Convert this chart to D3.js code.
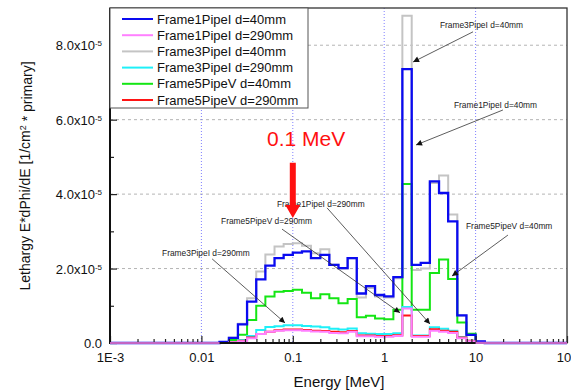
<!DOCTYPE html>
<html>
<head>
<meta charset="utf-8">
<script src="https://cdn.jsdelivr.net/npm/d3@7"></script>
<style>
  body { margin: 0; background: #fff; }
  svg { font-family: Arial, "Liberation Sans", sans-serif; }
</style>
</head>
<body>
<svg id="chart" width="571" height="391"></svg>
<script>
// bin edges in MeV (10 bins per decade from 0.01 to 12.6, then empty up to 100)
var edges = [0.001,
    0.01, 0.0126, 0.0158, 0.02, 0.0251, 0.0316, 0.0398, 0.0501, 0.0631, 0.0794,
    0.1, 0.126, 0.158, 0.2, 0.251, 0.316, 0.398, 0.501, 0.631, 0.794,
    1, 1.26, 1.58, 2.0, 2.51, 3.16, 3.98, 5.01, 6.31, 7.94,
    10, 12.6, 100];

// values in units of 1e-5 (first bin 0.001-0.01, last bin 12.6-100)
var frame1_40  = [0, 0, 0, 0.03, 0.14, 0.5, 1.11, 1.71, 2.08, 2.28, 2.37, 2.43, 2.46, 2.28, 2.37, 2.1, 2.01, 2.28, 1.33, 1.53, 1.29, 1.25, 1.77, 7.36, 2.1, 2.15, 4.34, 4.03, 3.27, 0.74, 0.22, 0.04, 0];
var frame1_290 = [0, 0, 0, 0, 0.02, 0.05, 0.13, 0.24, 0.3, 0.33, 0.34, 0.34, 0.33, 0.31, 0.3, 0.27, 0.26, 0.3, 0.18, 0.18, 0.17, 0.17, 0.19, 0.93, 0.17, 0.17, 0.33, 0.3, 0.27, 0.13, 0.05, 0.01, 0];
var frame3_40  = [0, 0, 0, 0.03, 0.14, 0.52, 1.2, 1.92, 2.38, 2.59, 2.66, 2.68, 2.61, 2.41, 2.52, 2.1, 2.0, 2.28, 1.22, 1.48, 1.25, 1.22, 1.74, 8.79, 1.96, 2.0, 4.3, 4.5, 3.45, 0.74, 0.22, 0.04, 0];
var frame3_290 = [0, 0, 0, 0, 0.03, 0.08, 0.19, 0.35, 0.43, 0.45, 0.48, 0.48, 0.46, 0.44, 0.42, 0.38, 0.36, 0.39, 0.26, 0.25, 0.24, 0.24, 0.26, 0.97, 0.2, 0.2, 0.42, 0.38, 0.33, 0.16, 0.06, 0.02, 0];
var frame5_40  = [0, 0, 0, 0, 0.08, 0.22, 0.62, 1.0, 1.25, 1.38, 1.4, 1.43, 1.35, 1.2, 1.31, 1.2, 1.07, 1.18, 0.69, 0.73, 0.66, 0.64, 0.89, 4.27, 0.89, 0.89, 1.88, 2.24, 1.72, 0.55, 0.25, 0.03, 0];
var frame5_290 = [0, 0, 0, 0, 0.02, 0.06, 0.15, 0.24, 0.3, 0.34, 0.36, 0.36, 0.35, 0.33, 0.32, 0.3, 0.29, 0.32, 0.2, 0.2, 0.19, 0.19, 0.21, 0.74, 0.19, 0.19, 0.37, 0.33, 0.3, 0.15, 0.06, 0.02, 0];

var seriesNames = ["Frame1PipeI d=40mm", "Frame1PipeI d=290mm", "Frame3PipeI d=40mm",
                   "Frame3PipeI d=290mm", "Frame5PipeV d=40mm", "Frame5PipeV d=290mm"];
var seriesValues = [frame1_40, frame1_290, frame3_40, frame3_290, frame5_40, frame5_290];
var seriesColors = ["#0a0af0", "#ff80ff", "#c4c4c4", "#1ff0f8", "#14e614", "#ff1414"];
var drawOrder = [2, 4, 3, 5, 0, 1];

var xMajor = [0.001, 0.01, 0.1, 1, 10, 100];
var xMajorLabels = ["1E-3", "0.01", "0.1", "1", "10", "100"];
var yMajor = [0, 2, 4, 6, 8];
var yMajorLabels = ["0.0", "2.0x10", "4.0x10", "6.0x10", "8.0x10"];
var yMinor = [1, 3, 5, 7];

// annotations: [text, label E, label v, line from E, v, arrow to E, v]
var notes = [
    ["Frame3PipeI d=40mm", 4.07, 8.46, 9.37, 8.36, 2.07, 7.55],
    ["Frame1PipeI d=40mm", 5.8, 6.31, 19.9, 6.26, 2.23, 5.32],
    ["Frame5PipeV d=40mm", 7.85, 3.06, 22.6, 2.9, 5.52, 1.8],
    ["Frame1PipeI d=290mm", 0.0671, 3.65, 0.237, 3.63, 3.17, 0.51],
    ["Frame5PipeV d=290mm", 0.0164, 3.2, 0.0762, 3.06, 1.49, 0.81],
    ["Frame3PipeI d=290mm", 0.00371, 2.34, 0.0131, 2.26, 0.0822, 0.54]
];

var margin = {top: 8, left: 110, right: 4, bottom: 48};
var width = 571, height = 391;
var svg = d3.select("#chart");

var x = d3.scaleLog().domain([0.001, 100]).range([margin.left, width - margin.right]);
var y = d3.scaleLinear().domain([0, 9]).range([height - margin.bottom, margin.top]);
var x0 = margin.left, x1 = width - margin.right, y0 = height - margin.bottom, y1 = margin.top;

// grid
svg.append("g").selectAll("line")
    .data(yMajor.slice(1)).enter().append("line")
    .attr("x1", x0).attr("x2", x1)
    .attr("y1", function (d) { return y(d); }).attr("y2", function (d) { return y(d); })
    .attr("stroke", "#b4b4b4").attr("stroke-width", 1).attr("stroke-dasharray", "3,3");
svg.append("g").selectAll("line")
    .data(xMajor.slice(1, 5)).enter().append("line")
    .attr("y1", y1).attr("y2", y0)
    .attr("x1", function (d) { return x(d); }).attr("x2", function (d) { return x(d); })
    .attr("stroke", "#8080ff").attr("stroke-width", 1).attr("stroke-dasharray", "1,2");

// histograms
var line = d3.line()
    .x(function (d) { return x(d[0]); })
    .y(function (d) { return y(d[1]); })
    .curve(d3.curveStepAfter);

drawOrder.forEach(function (s) {
    var vals = seriesValues[s];
    var pts = vals.map(function (v, i) { return [edges[i], v]; });
    pts.push([edges[edges.length - 1], vals[vals.length - 1]]);
    svg.append("path")
        .attr("d", line(pts))
        .attr("fill", "none")
        .attr("stroke", seriesColors[s])
        .attr("stroke-width", s === 0 ? 2.3 : 2);
});

// minor x ticks
var xMinor = [];
[0.001, 0.01, 0.1, 1, 10].forEach(function (dec) {
    for (var m = 2; m < 10; m++) xMinor.push(dec * m);
});

svg.append("g")
    .attr("transform", "translate(0," + y0 + ")")
    .call(d3.axisBottom(x).tickValues(xMinor).tickSize(-4).tickFormat(""))
    .call(function (g) { g.select(".domain").remove(); })
    .selectAll("line").attr("stroke", "#222").attr("stroke-width", 1.2);

var xAxis = svg.append("g")
    .attr("transform", "translate(0," + y0 + ")")
    .call(d3.axisBottom(x).tickValues(xMajor).tickSize(-7).tickPadding(0)
        .tickFormat(function (d, i) { return xMajorLabels[i]; }));
xAxis.select(".domain").remove();
xAxis.selectAll("line").attr("stroke", "#222").attr("stroke-width", 1.2);
xAxis.selectAll("text")
    .attr("y", 18.5).attr("dy", 0)
    .style("font-size", "13px").attr("fill", "#111")
    .attr("font-family", "Arial, 'Liberation Sans', sans-serif");

svg.append("g")
    .attr("transform", "translate(" + x0 + ",0)")
    .call(d3.axisLeft(y).tickValues(yMinor).tickSize(-4).tickFormat(""))
    .call(function (g) { g.select(".domain").remove(); })
    .selectAll("line").attr("stroke", "#222").attr("stroke-width", 1.2);

var yAxis = svg.append("g")
    .attr("transform", "translate(" + x0 + ",0)")
    .call(d3.axisLeft(y).tickValues(yMajor).tickSize(-7).tickFormat(""));
yAxis.select(".domain").remove();
yAxis.selectAll("line").attr("stroke", "#222").attr("stroke-width", 1.2);
yAxis.selectAll(".tick").each(function (d, i) {
    var t = d3.select(this).append("text")
        .attr("x", -8).attr("dy", "0.35em")
        .attr("text-anchor", "end")
        .attr("fill", "#111")
        .style("font-size", "13px")
        .attr("font-family", "Arial, 'Liberation Sans', sans-serif");
    t.append("tspan").text(yMajorLabels[i]);
    if (d !== 0) {
        t.append("tspan").attr("dy", "-0.5em").style("font-size", "8px").text("-5");
    }
});

// frame
svg.append("rect")
    .attr("x", x0).attr("y", y1).attr("width", x1 - x0).attr("height", y0 - y1)
    .attr("fill", "none").attr("stroke", "#333").attr("stroke-width", 1.3);
svg.append("line").attr("x1", x0).attr("x2", x0).attr("y1", y1).attr("y2", y0 + 1)
    .attr("stroke", "#111").attr("stroke-width", 2);
svg.append("line").attr("x1", x0 - 1).attr("x2", x1).attr("y1", y0).attr("y2", y0)
    .attr("stroke", "#111").attr("stroke-width", 2);
// pink baseline visible over the axis
svg.append("path")
    .attr("d", line([[edges[0], 0], [edges[3], 0]]))
    .attr("stroke", seriesColors[1]).attr("stroke-width", 1.5).attr("fill", "none");
svg.append("path")
    .attr("d", line([[edges[31], 0], [edges[33], 0]]))
    .attr("stroke", seriesColors[1]).attr("stroke-width", 1.5).attr("fill", "none");

// legend
var legend = svg.append("g");
legend.append("rect")
    .attr("x", x0).attr("y", y1).attr("width", 198).attr("height", 100)
    .attr("fill", "#fff").attr("stroke", "#555").attr("stroke-width", 1);
seriesNames.forEach(function (name, i) {
    var ly = 19 + i * 16.2;
    legend.append("line")
        .attr("x1", x0 + 12).attr("x2", x0 + 43).attr("y1", ly).attr("y2", ly)
        .attr("stroke", seriesColors[i]).attr("stroke-width", 2);
    legend.append("text")
        .attr("x", x0 + 47).attr("y", ly + 4.5)
        .style("font-size", "13px").attr("fill", "#111")
        .text(name);
});

// annotations
svg.append("defs").append("marker")
    .attr("id", "head").attr("viewBox", "0 0 10 10")
    .attr("refX", 10).attr("refY", 5)
    .attr("markerWidth", 8).attr("markerHeight", 6)
    .attr("markerUnits", "userSpaceOnUse")
    .attr("orient", "auto")
    .append("path").attr("d", "M0,0L10,5L0,10z").attr("fill", "#111");

notes.forEach(function (n) {
    svg.append("text")
        .attr("x", x(n[1])).attr("y", y(n[2]))
        .style("font-size", "8.4px").attr("fill", "#222")
        .text(n[0]);
    svg.append("line")
        .attr("x1", x(n[3])).attr("y1", y(n[4]))
        .attr("x2", x(n[5])).attr("y2", y(n[6]))
        .attr("stroke", "#333").attr("stroke-width", 0.8)
        .attr("marker-end", "url(#head)");
});

// 0.1 MeV marker
var ax = x(0.1), aTop = y(4.84), aTip = y(3.36);
svg.append("text")
    .attr("x", x(0.0523)).attr("y", y(5.29))
    .attr("fill", "#ff1010").style("font-size", "21px")
    .text("0.1 MeV");
svg.append("path")
    .attr("d", "M" + (ax - 3) + "," + aTop + "L" + (ax + 3) + "," + aTop +
        "L" + (ax + 3) + "," + (aTip - 13) + "L" + (ax + 7.5) + "," + (aTip - 13) +
        "L" + ax + "," + aTip + "L" + (ax - 7.5) + "," + (aTip - 13) +
        "L" + (ax - 3) + "," + (aTip - 13) + "Z")
    .attr("fill", "#ff1010");

// axis titles
svg.append("text")
    .attr("x", 339).attr("y", 387)
    .attr("text-anchor", "middle")
    .style("font-size", "15px").attr("fill", "#111")
    .text("Energy [MeV]");

var yt = svg.append("text")
    .attr("transform", "translate(30,176)rotate(-90)")
    .attr("text-anchor", "middle")
    .style("font-size", "14px").attr("fill", "#111");
yt.append("tspan").text("Lethargy E*dPhi/dE [1/cm");
yt.append("tspan").attr("dy", "-0.45em").style("font-size", "9px").text("2");
yt.append("tspan").attr("dy", "0.45em").text(" * primary]");
</script>
</body>
</html>
